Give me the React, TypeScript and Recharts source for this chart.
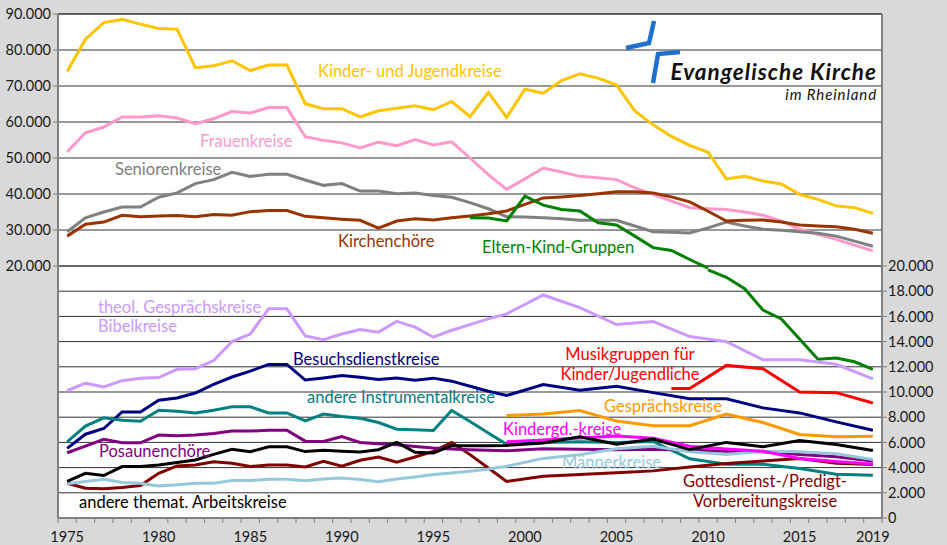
import React from "react";
import { LineChart, Line, XAxis, YAxis, CartesianGrid } from "recharts";

// Gruppen und Kreise in der Ev. Kirche im Rheinland, 1975–2019
const years = [
  1975, 1976, 1977, 1978, 1979, 1980, 1981, 1982, 1983, 1984, 1985, 1986, 1987,
  1988, 1989, 1990, 1991, 1992, 1993, 1994, 1995, 1996, 1997, 1998, 1999, 2000,
  2001, 2002, 2003, 2004, 2005, 2006, 2007, 2008, 2009, 2010, 2011, 2012, 2013,
  2014, 2015, 2016, 2017, 2018, 2019,
];

const xLabelYears = [1975, 1980, 1985, 1990, 1995, 2000, 2005, 2010, 2015, 2019];
const leftTicks = [20000, 30000, 40000, 50000, 60000, 70000, 80000, 90000];
const rightTicks = [0, 2000, 4000, 6000, 8000, 10000, 12000, 14000, 16000, 18000, 20000];

// upper panel (left axis)
const kinderJugend = [
  74000, 83000, 87600, 88500, 87200, 86000, 85800, 75100, 75600, 77000, 74300, 75800, 75800,
  65100, 63700, 63700, 61400, 63100, 63800, 64500, 63400, 65700, 61500, 68200, 61300,
  69100, 68000, 71500, 73400, 72200, 70300, 63100, 59200, 56000, 53500,
  51600, 44200, 44900, 43600, 42800, 39900, 38500, 36700, 36200, 34600,
];
const frauen = [
  51700, 57000, 58600, 61400, 61400, 61700, 61100, 59500, 60900, 62900, 62500, 64000, 64000,
  55900, 54900, 54200, 52800, 54400, 53400, 55100, 53600, 54500, 50000, 45400, 41300,
  44200, 47200, 46100, 44900, 44500, 44000, 41700, 39900, 38000, 36200,
  35900, 35700, 35000, 34100, 32500, 30200, 28800, 27400, 25800, 24200,
];
const senioren = [
  29500, 33400, 35000, 36400, 36400, 39100, 40300, 42900, 44000, 46000, 44900, 45500, 45500,
  43900, 42400, 42900, 40800, 40800, 40100, 40300, 39600, 39100, 37600, 35900, 33700,
  33600, 33400, 33100, 32700, 32700, 32700, 31100, 29500, 29400, 29200,
  30600, 32200, 31100, 30200, 29900, 29500, 29100, 28300, 26900, 25500,
];
const kirchenchoere = [
  28300, 31600, 32200, 34100, 33700, 33900, 34000, 33700, 34300, 34100, 35100, 35400, 35400,
  33800, 33400, 33000, 32700, 30500, 32500, 33100, 32800, 33400, 33900, 34500, 35300,
  37100, 38900, 39200, 39600, 40100, 40600, 40600, 40300, 39200, 37800,
  35200, 32500, 32700, 32800, 32200, 31400, 31100, 30900, 30200, 29100,
];
const elternKindOben = [
  null, null, null, null, null, null, null, null, null, null, null, null, null,
  null, null, null, null, null, null, null, null, null, 33400, 33300, 32500,
  39400, 36900, 35700, 35300, 32000, 31400, 28300, 25100, 24300, 21800,
  19400, null, null, null, null, null, null, null, null, null,
];

// lower panel (right axis)
const elternKindUnten = [
  null, null, null, null, null, null, null, null, null, null, null, null, null,
  null, null, null, null, null, null, null, null, null, null, null, null,
  null, null, null, null, null, null, null, null, null, null,
  19700, 19100, 18200, 16500, 15800, 14200, 12600, 12700, 12400, 11800,
];
const theolBibel = [
  10100, 10700, 10400, 10900, 11100, 11150, 11800, 11850, 12500, 14000, 14600, 16600, 16600,
  14450, 14150, 14600, 14950, 14750, 15600, 15150, 14350, 14900, 15350, 15800, 16200,
  null, 17700, null, 16700, null, 15350, null, 15600, null, 14400,
  null, 14000, null, 12550, null, 12550, null, 12200, null, 11050,
];
const besuchsdienst = [
  5530, 6650, 7100, 8420, 8420, 9340, 9530, 9920, 10600, 11190, 11660, 12190, 12190,
  10950, 11120, 11300, 11170, 10990, 11120, 10940, 11100, 10860, 10460, 10060, 9720,
  null, 10590, null, 10140, null, 10450, null, 9950, null, 9470,
  null, 9470, null, 8740, null, 8340, null, 7630, null, 6970,
];
const musikgruppen = [
  null, null, null, null, null, null, null, null, null, null, null, null, null,
  null, null, null, null, null, null, null, null, null, null, null, null,
  null, null, null, null, null, null, null, null, 10270, 10270,
  null, 12110, null, 11840, null, 10000, null, 9950, null, 9130,
];
const gespraechskreise = [
  null, null, null, null, null, null, null, null, null, null, null, null, null,
  null, null, null, null, null, null, null, null, null, null, null, 8130,
  null, 8260, null, 8530, null, 7690, null, 7320, null, 7320,
  null, 8240, null, 7580, null, 6630, null, 6450, null, 6480,
];
const instrumental = [
  6050, 7290, 7950, 7760, 7680, 8550, 8470, 8340, 8550, 8820, 8820, 8340, 8340,
  7700, 8250, 8050, 7920, 7580, 7050, 7000, 6950, 8530, 7660, 6740, 5850,
  null, 6000, null, 6050, null, 6000, null, 6080, null, 4700,
  null, 4260, null, 4260, null, 3920, null, 3480, null, 3400,
];
const kindergottesdienst = [
  null, null, null, null, null, null, null, null, null, null, null, null, null,
  null, null, null, null, null, null, null, null, null, null, null, 6050,
  null, 6200, null, 6350, null, 6500, null, 6330, null, 5700,
  null, 5480, null, 5300, null, 4720, null, 4490, null, 4280,
];
const posaunen = [
  5180, 5710, 6240, 5970, 5970, 6580, 6530, 6580, 6710, 6900, 6900, 6970, 6970,
  6100, 6080, 6470, 6000, 5890, 5820, 5680, 5550, 5470, 5420, 5370, 5340,
  null, 5500, null, 5450, null, 5420, null, 5450, null, 5380,
  null, 5300, null, 5250, null, 5040, null, 4860, null, 4520,
];
const thematisch = [
  2900, 3550, 3370, 4080, 4080, 4210, 4400, 4610, 5050, 5450, 5260, 5660, 5660,
  5270, 5370, 5290, 5240, 5420, 6000, 5210, 5160, 5740, 5740, 5740, 5760,
  null, 5950, null, 6450, null, 5850, null, 6260, null, 5430,
  null, 6000, null, 5650, null, 6150, null, 5830, null, 5360,
];
const gottesdienst = [
  2760, 2370, 2320, 2420, 2580, 3550, 4130, 4210, 4470, 4340, 4080, 4210, 4210,
  4050, 4500, 4110, 4580, 4840, 4420, 4840, 5290, 6000, 5030, 3970, 2900,
  null, 3310, null, 3460, null, 3600, null, 3740, null, 4050,
  null, 4320, null, 4520, null, 4730, null, 4350, null, 4250,
];
const maenner = [
  2710, 2900, 3080, 2820, 2760, 2550, 2630, 2760, 2760, 2970, 2970, 3080, 3080,
  2950, 3100, 3180, 3050, 2870, 3100, 3260, 3450, 3580, 3710, 3890, 4110,
  null, 4730, null, 5030, null, 5500, null, 5690, null, 5250,
  null, 5040, null, 5300, null, 5250, null, 5090, null, 4650,
];

const data = years.map((year, i) => ({
  year,
  kinderJugend: kinderJugend[i],
  frauen: frauen[i],
  senioren: senioren[i],
  kirchenchoere: kirchenchoere[i],
  elternKindOben: elternKindOben[i],
  elternKindUnten: elternKindUnten[i],
  theolBibel: theolBibel[i],
  besuchsdienst: besuchsdienst[i],
  musikgruppen: musikgruppen[i],
  gespraechskreise: gespraechskreise[i],
  instrumental: instrumental[i],
  kindergottesdienst: kindergottesdienst[i],
  posaunen: posaunen[i],
  thematisch: thematisch[i],
  gottesdienst: gottesdienst[i],
  maenner: maenner[i],
}));

// minor ticks sit between the years, labels on the years
const xTicks = [...years.map((y) => y - 0.5), 2019.5, ...xLabelYears];

const fmt = (v: number) => String(v).replace(/\B(?=(\d{3})+(?!\d))/g, ".");

const FONT = "Lato, 'Open Sans', sans-serif";

function YearTick(props: any) {
  const { x, y, payload } = props;
  const v = payload.value;
  if (Number.isInteger(v)) {
    return (
      <text x={x} y={y + 24} textAnchor="middle" fontSize={14.5} fill="#1a1a1a" fontFamily={FONT}>
        {v}
      </text>
    );
  }
  return <line x1={x} x2={x} y1={y} y2={y + 5} stroke="#808080" strokeWidth={1} />;
}

const topSeries = [
  { key: "kinderJugend", color: "#FFC400" },
  { key: "frauen", color: "#FF99CC" },
  { key: "senioren", color: "#808080" },
  { key: "kirchenchoere", color: "#993300" },
  { key: "elternKindOben", color: "#008000" },
];

const bottomSeries = [
  { key: "elternKindUnten", color: "#008000" },
  { key: "theolBibel", color: "#CC99FF" },
  { key: "besuchsdienst", color: "#000080" },
  { key: "musikgruppen", color: "#FF0000" },
  { key: "gespraechskreise", color: "#FF9900" },
  { key: "instrumental", color: "#008080" },
  { key: "gottesdienst", color: "#800000" },
  { key: "posaunen", color: "#800080" },
  { key: "maenner", color: "#96C8DC" },
  { key: "kindergottesdienst", color: "#FF00FF" },
  { key: "thematisch", color: "#000000" },
];

const labels = [
  { text: "Kinder- und Jugendkreise", x: 318, y: 77, color: "#FFC400" },
  { text: "Frauenkreise", x: 200, y: 147, color: "#FF99CC" },
  { text: "Seniorenkreise", x: 115, y: 175, color: "#808080" },
  { text: "Kirchenchöre", x: 338, y: 247, color: "#993300" },
  { text: "Eltern-Kind-Gruppen", x: 482, y: 253, color: "#008000" },
  { text: "theol. Gesprächskreise", x: 98, y: 313, color: "#CC99FF" },
  { text: "Bibelkreise", x: 98, y: 332, color: "#CC99FF" },
  { text: "Besuchsdienstkreise", x: 293, y: 365, color: "#000080" },
  { text: "andere Instrumentalkreise", x: 307, y: 403, color: "#008080" },
  { text: "Gesprächskreise", x: 604, y: 412, color: "#FF9900" },
  { text: "Kindergd.-kreise", x: 503, y: 435, color: "#FF00FF" },
  { text: "Männerkreise", x: 562, y: 468, color: "#96C8DC" },
  { text: "Posaunenchöre", x: 99, y: 457, color: "#800080" },
  { text: "andere themat. Arbeitskreise", x: 79, y: 508, color: "#000000" },
];

const centeredLabels = [
  { text: "Musikgruppen für", x: 630, y: 360, color: "#FF0000" },
  { text: "Kinder/Jugendliche", x: 630, y: 380, color: "#FF0000" },
  { text: "Gottesdienst-/Predigt-", x: 765, y: 487, color: "#800000" },
  { text: "Vorbereitungskreise", x: 765, y: 507, color: "#800000" },
];

export default function App() {
  const tickStyle = { fill: "#1a1a1a", fontSize: 14.5, fontFamily: FONT };
  return (
    <div style={{ position: "absolute", left: 0, top: 0, width: 947, height: 545, background: "#D9D9D9" }}>
      <LineChart width={947} height={545} data={data} margin={{ top: 14, right: 0, bottom: 0, left: 0 }}>
        <CartesianGrid yAxisId="top" vertical={false} stroke="#333" fill="#fff" fillOpacity={1} />
        <CartesianGrid yAxisId="bottom" vertical={false} stroke="#333" />
        <XAxis
          dataKey="year"
          type="number"
          domain={[1974.5, 2019.5]}
          ticks={xTicks}
          interval={0}
          tickLine={false}
          tickSize={0}
          tickMargin={0}
          tick={<YearTick />}
          height={27}
          axisLine={{ stroke: "#808080", strokeWidth: 2 }}
        />
        <YAxis
          yAxisId="top"
          domain={[-50000, 90000]}
          ticks={leftTicks}
          interval={0}
          width={58}
          tickFormatter={fmt}
          tick={tickStyle}
          tickSize={5}
          tickMargin={2}
          tickLine={{ stroke: "#808080" }}
          axisLine={{ stroke: "#808080", strokeWidth: 2 }}
        />
        <YAxis
          yAxisId="bottom"
          orientation="right"
          domain={[0, 40000]}
          ticks={rightTicks}
          interval={0}
          width={65}
          tickFormatter={fmt}
          tick={tickStyle}
          tickSize={5}
          tickMargin={1}
          tickLine={{ stroke: "#808080" }}
          axisLine={{ stroke: "#808080", strokeWidth: 2 }}
        />
        {bottomSeries.map((s) => (
          <Line
            key={s.key}
            yAxisId="bottom"
            dataKey={s.key}
            stroke={s.color}
            strokeWidth={3}
            dot={false}
            activeDot={false}
            connectNulls
            isAnimationActive={false}
          />
        ))}
        {topSeries.map((s) => (
          <Line
            key={s.key}
            yAxisId="top"
            dataKey={s.key}
            stroke={s.color}
            strokeWidth={3}
            dot={false}
            activeDot={false}
            connectNulls
            isAnimationActive={false}
          />
        ))}
      </LineChart>
      <svg width={947} height={545} style={{ position: "absolute", left: 0, top: 0, pointerEvents: "none" }}>
        {labels.map((l) => (
          <text key={l.text} x={l.x} y={l.y} fill={l.color} fontSize={16.5} fontFamily={FONT}>
            {l.text}
          </text>
        ))}
        {centeredLabels.map((l) => (
          <text key={l.text} x={l.x} y={l.y} fill={l.color} fontSize={16.5} fontFamily={FONT} textAnchor="middle">
            {l.text}
          </text>
        ))}
        <polyline points="626,48 649,43 654,21" fill="none" stroke="#1F6FCE" strokeWidth={4.5} />
        <polyline points="680,52 658,54 653,83" fill="none" stroke="#1F6FCE" strokeWidth={4.5} />
        <text
          x={877}
          y={80}
          textAnchor="end"
          fontSize={22.5}
          fontWeight="bold"
          fontStyle="italic"
          letterSpacing={1}
          fontFamily={FONT}
          fill="#111"
        >
          Evangelische Kirche
        </text>
        <text
          x={877}
          y={100}
          textAnchor="end"
          fontSize={15}
          fontStyle="italic"
          letterSpacing={0.9}
          fontFamily={FONT}
          fill="#111"
        >
          im Rheinland
        </text>
      </svg>
    </div>
  );
}
